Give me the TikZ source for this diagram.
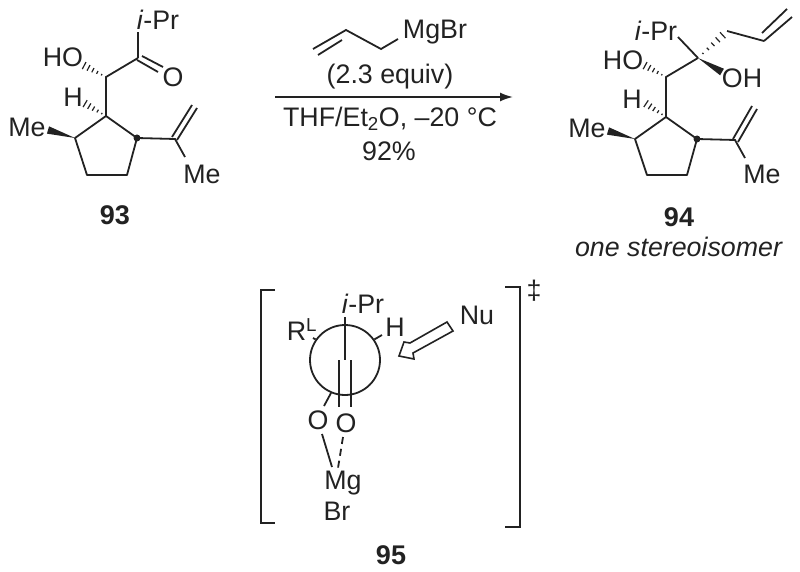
\documentclass[tikz,border=0pt]{standalone}
\usepackage{fontspec}
\setmainfont{Liberation Sans}
\usetikzlibrary{calc,arrows.meta}
\definecolor{inkgray}{HTML}{222222}
\newcommand{\wedgebond}[2]{\fill[inkgray] (#1) -- ($(#2)!3.8pt!90:(#1)$) -- ($(#2)!3.8pt!-90:(#1)$) -- cycle;}
\newcommand{\hashbond}[2]{\foreach \s in {1,...,5} {
  \coordinate (hh) at ($(#1)!\s*0.19!(#2)$);
  \draw[inkgray,line width=1.2pt] ($(hh)!\s*0.8pt!90:(#2)$) -- ($(hh)!\s*0.8pt!-90:(#2)$);}}

\begin{document}
\begin{tikzpicture}[
x=1pt,y=-1pt,
atom/.style={inner sep=0pt, text=inkgray, font=\fontsize{26.8}{28}\selectfont},
cmpd/.style={inner sep=0pt, text=inkgray, font=\fontsize{27}{29}\selectfont\bfseries},
bond/.style={draw=inkgray, line width=1.8pt},
dotatom/.style={circle, fill=inkgray, inner sep=0pt, minimum size=7pt},
]
\useasboundingbox (0,0) rectangle (800,572);
%Nodes
\node[atom] (ipra) at (158,20) {\textit{i}-Pr};
\node[atom] (hoa)  at (63,57)  {HO};
\node[atom] (oa)   at (173,77) {O};
\node[atom] (ha)   at (73,97)  {H};
\node[atom] (mea)  at (27,127) {Me};
\node[atom] (mera) at (202,174) {Me};
\node[cmpd] (lba)  at (115,215) {93};

\node[atom] (iprb) at (656,31) {\textit{i}-Pr};
\node[atom] (hob)  at (623,60) {HO};
\node[atom] (ohb)  at (742,78) {OH};
\node[atom] (hb)   at (632,99) {H};
\node[atom] (meb)  at (587,128) {Me};
\node[atom] (merb) at (762,174) {Me};
\node[cmpd] (lbb)  at (679,217) {94};
\node[atom] (oneb) at (679,247) {\textit{one stereoisomer}};

\node[atom] (mgbr) at (435,32)  {MgBr};
\node[atom] (eqv)  at (390,77)  {(2.3 equiv)};
\node[atom] (thf)  at (390,119) {THF/Et\textsubscript{2}O, –20 °C};
\node[atom] (yld)  at (389,151) {92\%};

\node[atom] (iprc) at (363,304) {\textit{i}-Pr};
\node[atom] (rlc)  at (302,330) {R\textsuperscript{L}};
\node[atom] (hc)   at (395,327) {H};
\node[atom] (nuc)  at (477,315) {Nu};
\node[atom] (olc)  at (318,420) {O};
\node[atom] (orc)  at (346,423) {O};
\node[atom] (mgc)  at (343,483) {Mg};
\node[atom] (brc)  at (337,511) {Br};
\node[atom] (ddg)  at (534,291) {‡};
\node[cmpd] (lbc)  at (391,555) {95};
\node[draw=inkgray, line width=1.8pt, circle, inner sep=0pt, minimum size=70pt] (nwm) at (345,360) {};

%Atoms of 93
\coordinate (a1) at (138,58);
\coordinate (a2) at (106,77);
\coordinate (a3) at (106,116);
\coordinate (a4) at (137,138);
\coordinate (a5) at (127,175);
\coordinate (a6) at (87,175);
\coordinate (a7) at (75,138);
\coordinate (a8) at (175,139);
\coordinate (aipr) at (138,32);
\coordinate (ame) at (185,157);
\coordinate (ahoe) at (83,65);
\coordinate (ahe) at (84,103);
\coordinate (awe) at (48,130);
\coordinate (aox) at (142,56);
\coordinate (aoy) at (163,67);
\coordinate (aoz) at (137,60);
\coordinate (aow) at (158,72);
\coordinate (acx) at (172,137);
\coordinate (acy) at (192,105);
\coordinate (acz) at (177,140);
\coordinate (acw) at (197,108);
%Atoms of 94
\coordinate (b1) at (698,58);
\coordinate (b2) at (666,77);
\coordinate (b3) at (666,117);
\coordinate (b4) at (697,139);
\coordinate (b5) at (687,175);
\coordinate (b6) at (647,175);
\coordinate (b7) at (635,139);
\coordinate (b8) at (735,140);
\coordinate (b9) at (727,31);
\coordinate (b10) at (764,41);
\coordinate (bipr) at (678,37);
\coordinate (bme) at (745,158);
\coordinate (bhoe) at (644,65);
\coordinate (bhe) at (645,103);
\coordinate (bale) at (724,34);
\coordinate (boh) at (722,72);
\coordinate (bwe) at (608,131);
\coordinate (bcx) at (733,139);
\coordinate (bcy) at (752,106);
\coordinate (bcz) at (738,142);
\coordinate (bcw) at (757,109);
\coordinate (bvx) at (792,17);
\coordinate (bvy) at (762,33);
\coordinate (bvz) at (787,9);
%Reagent
\coordinate (r0) at (313,49);
\coordinate (r1) at (346,30);
\coordinate (r2) at (381,49);
\coordinate (r3) at (398,39);
\coordinate (r4) at (318,55);
\coordinate (r5) at (342,40);
\coordinate (arra) at (275,97);
\coordinate (arrb) at (513,97);
%Ends in 95
\coordinate (ctop) at (345,317);
\coordinate (crl) at (313,338);
\coordinate (chh) at (382,335);
\coordinate (cdx) at (339,360);
\coordinate (cdy) at (339,407);
\coordinate (cdz) at (351,360);
\coordinate (cdw) at (351,407);
\coordinate (col) at (324,406);
\coordinate (cmx) at (322,434);
\coordinate (cmy) at (332,467);
\coordinate (cmz) at (343,437);
\coordinate (cmw) at (338,468);

%Lines of 93
\draw[bond] (a1) -- (aipr);
\draw[bond] (aox) -- (aoy);
\draw[bond] (aoz) -- (aow);
\draw[bond] (a1) -- (a2) -- (a3);
\draw[bond,line join=round] (a3) -- (a4) -- (a5) -- (a6) -- (a7) -- cycle;
\draw[bond] (a4) -- (a8) -- (ame);
\draw[bond] (acx) -- (acy);
\draw[bond] (acz) -- (acw);
\hashbond{a2}{ahoe}
\hashbond{a3}{ahe}
\wedgebond{a7}{awe}
\node[dotatom] (dota) at (a4) {};

%Lines of 94
\draw[bond] (b1) -- (bipr);
\draw[bond] (b1) -- (b2) -- (b3);
\draw[bond,line join=round] (b3) -- (b4) -- (b5) -- (b6) -- (b7) -- cycle;
\draw[bond] (b4) -- (b8) -- (bme);
\draw[bond] (bcx) -- (bcy);
\draw[bond] (bcz) -- (bcw);
\draw[bond] (b9) -- (b10);
\draw[bond] (b10) -- (bvx);
\draw[bond] (bvy) -- (bvz);
\hashbond{b2}{bhoe}
\hashbond{b3}{bhe}
\hashbond{b1}{bale}
\wedgebond{b1}{boh}
\wedgebond{b7}{bwe}
\node[dotatom] (dotb) at (b4) {};

%Lines of the reagent
\draw[bond] (r0) -- (r1) -- (r2) -- (r3);
\draw[bond] (r4) -- (r5);
\draw[bond,-{Latex[length=13pt,width=9pt]}] (arra) -- (arrb);

%Lines of 95
\draw[bond] (275,290) -- (261,290) -- (261,523) -- (275,523);
\draw[bond] (505,287) -- (520,287) -- (520,527) -- (505,527);
\draw[bond] (ctop) -- (nwm.center);
\draw[bond] (crl) -- (nwm.145);
\draw[bond] (nwm.35) -- (chh);
\draw[bond] (cdx) -- (cdy);
\draw[bond] (cdz) -- (cdw);
\draw[bond] (nwm.247) -- (col);
\draw[bond] (cmx) -- (cmy);
\draw[bond,dash pattern=on 7pt off 5pt] (cmz) -- (cmw);
\draw[inkgray,line width=1.6pt,fill=white,line join=miter]
  (447,322) -- (410,343) -- (404,342) -- (399,356) -- (414,359) -- (413,353) -- (453,331) -- cycle;
\end{tikzpicture}
\end{document}
